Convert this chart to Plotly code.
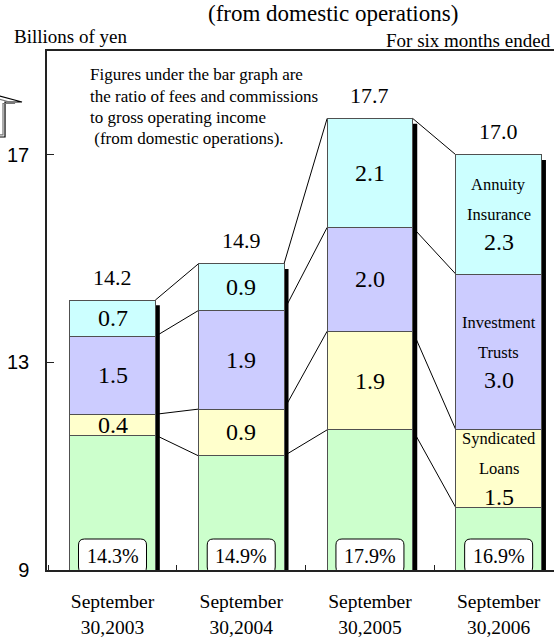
import plotly.graph_objects as go

# ---------------- data ----------------
categories = ["September<br>30,2003", "September<br>30,2004", "September<br>30,2005", "September<br>30,2006"]
other = [11.6, 11.2, 11.7, 10.2]
syndicated_loans = [0.4, 0.9, 1.9, 1.5]
investment_trusts = [1.5, 1.9, 2.0, 3.0]
annuity_insurance = [0.7, 0.9, 2.1, 2.3]
totals = [14.2, 14.9, 17.7, 17.0]
ratios = ["14.3%", "14.9%", "17.9%", "16.9%"]
y_ticks = [9, 13, 17]

series = [
    ("Other", other, "#CCFFCC", None),
    ("Syndicated Loans", syndicated_loans, "#FFFFCC", ["Syndicated", "Loans"]),
    ("Investment Trusts", investment_trusts, "#CCCCFF", ["Investment", "Trusts"]),
    ("Annuity Insurance", annuity_insurance, "#CCFFFF", ["Annuity", "Insurance"]),
]

SERIF = "Liberation Serif, Times New Roman, serif"
SANS = "Liberation Sans, Arial, sans-serif"
W, H = 554, 637
ML, MR, MT, MB = 47, 0, 51, 67
PW, PH = W - ML - MR, H - MT - MB
Y0, Y1 = 9, 19
BW = 0.665          # bar width (category units)
SHADOW_W = 0.035    # shadow width
SHADOW_DROP = 0.1   # shadow start below top

def px2paper_x(px):
    return (px - ML) / PW

def px2paper_y(py):
    return (H - MB - py) / PH

fig = go.Figure()
for name, vals, color, _ in series:
    fig.add_trace(go.Bar(
        x=categories, y=vals, name=name, width=BW,
        marker=dict(color=color, line=dict(color="#505050", width=1)),
        hoverinfo="skip", showlegend=False,
    ))

shapes = []
annotations = []
n = len(categories)

# cumulative boundaries
bounds = []
for i in range(n):
    acc = 0
    cum = []
    for _, vals, _, _ in series:
        acc += vals[i]
        cum.append(acc)
    bounds.append(cum)

# connector lines
for i in range(n - 1):
    for k in range(len(series)):
        shapes.append(dict(
            type="line", xref="x", yref="y", layer="below",
            x0=i + BW / 2, x1=i + 1 - BW / 2,
            y0=bounds[i][k], y1=bounds[i + 1][k],
            line=dict(color="black", width=1),
        ))

# drop shadows
for i in range(n):
    shapes.append(dict(
        type="rect", xref="x", yref="y", layer="below",
        x0=i + BW / 2, x1=i + BW / 2 + SHADOW_W,
        y0=Y0, y1=totals[i] - SHADOW_DROP,
        fillcolor="black", line=dict(width=0),
    ))

# rounded ratio boxes
r = 6
for i in range(n):
    hw, yb, yt = 34, -3, 31
    path = (f"M {-hw + r},{yb} L {hw - r},{yb} Q {hw},{yb} {hw},{yb + r} "
            f"L {hw},{yt - r} Q {hw},{yt} {hw - r},{yt} L {-hw + r},{yt} "
            f"Q {-hw},{yt} {-hw},{yt - r} L {-hw},{yb + r} Q {-hw},{yb} {-hw + r},{yb} Z")
    shapes.append(dict(
        type="path", xref="x", yref="y", xsizemode="pixel", ysizemode="pixel",
        xanchor=i, yanchor=Y0, path=path, layer="above",
        fillcolor="white", line=dict(color="black", width=1),
    ))
    annotations.append(dict(
        x=i, y=Y0, xref="x", yref="y", text=ratios[i], showarrow=False,
        yanchor="middle", yshift=14, font=dict(family=SERIF, size=20, color="black"),
    ))

# segment value labels
for i in range(n):
    lower = 0
    for k, (name, vals, color, label_lines) in enumerate(series):
        upper = lower + vals[i]
        if k > 0:
            mid = (lower + upper) / 2
            if i == n - 1 and label_lines:
                annotations.append(dict(x=i, y=mid, xref="x", yref="y", text=label_lines[0],
                                        showarrow=False, yanchor="middle", yshift=30,
                                        font=dict(family=SERIF, size=16.5, color="black")))
                annotations.append(dict(x=i, y=mid, xref="x", yref="y", text=label_lines[1],
                                        showarrow=False, yanchor="middle", yshift=0,
                                        font=dict(family=SERIF, size=16.5, color="black")))
                annotations.append(dict(x=i, y=mid, xref="x", yref="y", text=f"{vals[i]:.1f}",
                                        showarrow=False, yanchor="middle", yshift=-28,
                                        font=dict(family=SERIF, size=24, color="black")))
            else:
                annotations.append(dict(x=i, y=mid, xref="x", yref="y", text=f"{vals[i]:.1f}",
                                        showarrow=False, yanchor="middle",
                                        font=dict(family=SERIF, size=24, color="black")))
        lower = upper
    annotations.append(dict(x=i, y=totals[i], xref="x", yref="y", text=f"{totals[i]:.1f}",
                            showarrow=False, yanchor="middle", yshift=23,
                            font=dict(family=SERIF, size=22, color="black")))

# texts around the chart
annotations += [
    dict(x=px2paper_x(333), y=px2paper_y(13), xref="paper", yref="paper", yanchor="middle",
         text="(from domestic operations)", showarrow=False,
         font=dict(family=SERIF, size=23, color="black")),
    dict(x=px2paper_x(12), y=px2paper_y(37), xref="paper", yref="paper", xanchor="left",
         yanchor="middle", text="Billions of yen", showarrow=False,
         font=dict(family=SERIF, size=19, color="black")),
    dict(x=px2paper_x(553), y=px2paper_y(40), xref="paper", yref="paper", xanchor="right",
         yanchor="middle", text="For six months ended", showarrow=False,
         font=dict(family=SERIF, size=19, color="black")),
]
note_lines = ["Figures under the bar graph are",
              "the ratio of fees and commissions",
              "to gross operating income",
              "\u00a0(from domestic operations)."]
for j, line in enumerate(note_lines):
    annotations.append(dict(x=px2paper_x(88), y=px2paper_y(75 + 21.3 * j), xref="paper", yref="paper",
                            xanchor="left", yanchor="middle", text=line, showarrow=False,
                            font=dict(family=SERIF, size=17, color="black")))

# partial arrow at top-left
def pp(pts):
    return "M " + " L ".join(f"{px2paper_x(x):.4f},{px2paper_y(y):.4f}" for x, y in pts) + " Z"

shapes.append(dict(type="path", xref="paper", yref="paper", layer="above",
                   path=pp([(-12, 93), (22, 102), (5, 102), (5, 137), (-12, 137)]),
                   fillcolor="white", line=dict(color="black", width=1.2)))
shapes.append(dict(type="path", xref="paper", yref="paper", layer="above",
                   path=pp([(-12, 96), (15, 103.5), (3, 103.5), (3, 135), (-12, 135)]),
                   fillcolor="rgba(0,0,0,0)", line=dict(color="#777", width=1.2)))

fig.update_layout(
    width=W, height=H,
    margin=dict(l=ML, r=MR, t=MT, b=MB, autoexpand=False),
    barmode="stack",
    plot_bgcolor="white", paper_bgcolor="white",
    shapes=shapes, annotations=annotations,
    showlegend=False,
    xaxis=dict(type="category", range=[-0.509, 3.43], tickson="boundaries",
               ticks="inside", ticklen=5, tickcolor="#222", tickwidth=1,
               showline=True, mirror=True, linecolor="#222", linewidth=1.5,
               showgrid=False, zeroline=False, ticklabelstandoff=13,
               tickfont=dict(family=SERIF, size=19.5, color="black")),
    yaxis=dict(range=[Y0, Y1], tickvals=y_ticks, ticks="inside", ticklen=7,
               tickcolor="#222", tickwidth=1, showline=True, linecolor="#222", linewidth=1.5,
               showgrid=False, zeroline=False, ticklabelstandoff=12,
               tickfont=dict(family=SANS, size=20, color="black")),
)

fig.write_html("out.html")
